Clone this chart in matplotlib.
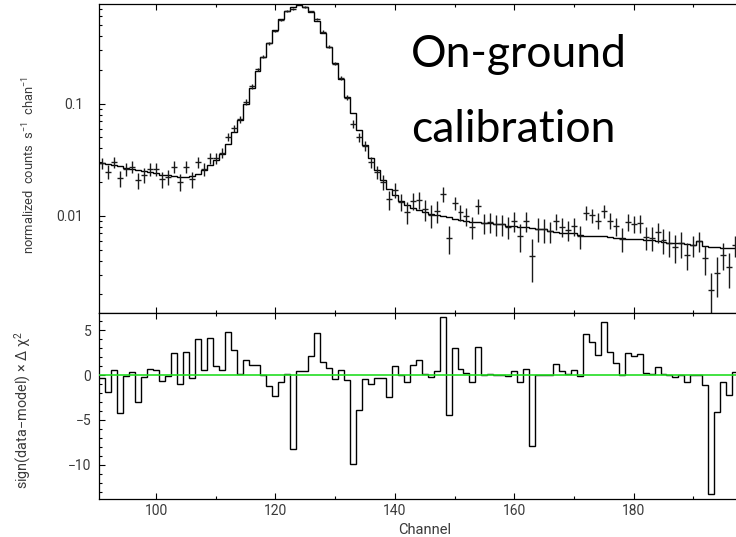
import matplotlib
matplotlib.use("Agg")
import matplotlib.pyplot as plt
import numpy as np
from matplotlib.ticker import MultipleLocator, FixedLocator, LogLocator, NullFormatter, FixedFormatter

plt.rcParams['font.family'] = ['Roboto', 'DejaVu Sans']
plt.rcParams['mathtext.fontset'] = 'custom'
plt.rcParams['mathtext.rm'] = 'Roboto'
plt.rcParams['mathtext.it'] = 'Roboto'
plt.rcParams['mathtext.fallback'] = 'cm'

channels = np.arange(91, 198)

counts = [0.0294, 0.0248, 0.0301, 0.0217, 0.0261, 0.0275, 0.0209, 0.0232, 0.0262, 0.0261,
          0.0213, 0.0221, 0.0275, 0.0202, 0.0275, 0.0213, 0.0301, 0.0262, 0.0327, 0.0327,
          0.0366, 0.0508, 0.0604, 0.0726, 0.104, 0.143, 0.202, 0.262, 0.344, 0.442,
          0.560, 0.672, 0.695, 0.765, 0.730, 0.662, 0.565, 0.438, 0.321, 0.227,
          0.169, 0.113, 0.0659, 0.0502, 0.0422, 0.0300, 0.0245, 0.0200, 0.0141, 0.0172,
          0.0134, 0.0109, 0.0137, 0.0140, 0.0115, 0.0102, 0.0111, 0.0156, 0.0064, 0.0130,
          0.0108, 0.0100, 0.0080, 0.0123, 0.0087, 0.0088, 0.0085, 0.0084, 0.0080, 0.0090,
          0.0066, 0.0090, 0.0044, 0.0077, 0.0076, 0.0073, 0.0090, 0.0080, 0.0075, 0.0081,
          0.0066, 0.0107, 0.0101, 0.0091, 0.0111, 0.0091, 0.0081, 0.0063, 0.0089, 0.0085,
          0.0086, 0.0065, 0.0064, 0.0072, 0.0061, 0.0058, 0.0053, 0.0057, 0.0045, 0.0055,
          0.0060, 0.0042, 0.0022, 0.0031, 0.0045, 0.0035, 0.0055]

count_err = ([0.0034] * 20 +
             [0.0036, 0.0040, 0.0045, 0.0050, 0.0058, 0.0068, 0.0078, 0.0088, 0.0098, 0.0110,
              0.0120, 0.0130, 0.0130, 0.0140, 0.0130, 0.0130, 0.0120, 0.0110, 0.0095, 0.0080,
              0.0070, 0.0060, 0.0050, 0.0045, 0.0040, 0.0035, 0.0032, 0.0030, 0.0027, 0.0026] +
             [0.0024] * 8 + [0.0018] * 17 + [0.0015] * 23 +
             [0.0012, 0.0012, 0.0012, 0.0012, 0.0009, 0.0012, 0.0012, 0.0012, 0.0012])

model = [0.0298, 0.0291, 0.0284, 0.0277, 0.0270, 0.0263, 0.0256, 0.0250, 0.0244, 0.0239,
         0.0234, 0.0230, 0.0226, 0.0224, 0.0223, 0.0226, 0.0237, 0.0256, 0.0285, 0.0318,
         0.0358, 0.0440, 0.0560, 0.0720, 0.0990, 0.138, 0.196, 0.262, 0.349, 0.452,
         0.565, 0.670, 0.725, 0.760, 0.725, 0.650, 0.545, 0.430, 0.317, 0.229,
         0.167, 0.114, 0.0821, 0.0583, 0.0429, 0.0326, 0.0257, 0.0209, 0.0173, 0.0154,
         0.0136, 0.0124, 0.0117, 0.0112, 0.0108, 0.0104, 0.0101, 0.0099, 0.0097, 0.0094,
         0.0092, 0.0091, 0.0089, 0.0088, 0.0087, 0.0086, 0.0085, 0.0084, 0.0082, 0.0081,
         0.0080, 0.0079, 0.0078, 0.0077, 0.0076, 0.0073, 0.0072, 0.0071, 0.0071, 0.0070,
         0.0068, 0.0067, 0.0067, 0.0066, 0.0066, 0.0065, 0.0064, 0.0064, 0.0063, 0.0063,
         0.0062, 0.0061, 0.0061, 0.0060, 0.0059, 0.0058, 0.0057, 0.0057, 0.0056, 0.0055,
         0.0060, 0.0054, 0.0053, 0.0053, 0.0052, 0.0052, 0.0052]

resid = [-0.35, -1.86, 0.56, -4.2, -0.1, 0.33, -3.0, -0.2, 0.67, 0.56,
         -0.67, -0.1, 2.4, -1.0, 2.56, -0.33, 4.0, 0.56, 4.1, 1.0,
         0.56, 4.8, 2.75, 0.1, 1.67, 1.1, 1.1, 0.0, -1.23, -2.3,
         -0.74, 0.15, -8.2, 0.45, 0.45, 2.1, 4.7, 1.5, 0.78, -0.45,
         0.56, -0.52, -9.85, -3.94, -0.41, -0.97, -0.33, -0.33, -2.5, 1.0,
         0.0, -0.82, 1.15, 1.67, 0.15, -0.19, 0.45, 6.47, -4.42, 3.0,
         0.67, 0.26, -0.74, 3.1, 0.0, 0.15, 0.0, 0.0, -0.1, 0.45,
         -0.74, 0.67, -7.9, 0.0, 0.0, 0.0, 1.23, 0.45, 0.15, 0.56,
         -0.1, 4.57, 3.7, 2.2, 5.9, 2.56, 1.37, 0.0, 2.45, 2.1,
         2.34, 0.22, 0.1, 0.9, 0.1, 0.0, -0.22, 0.0, -0.74, 0.0,
         0.0, -1.1, -13.2, -4.1, -0.74, -2.2, 0.33]

annotation_lines = ["On-ground", "calibration"]

edges = np.append(channels - 0.5, channels[-1] + 0.5)
txt_col = '#3a3a3a'

fig = plt.figure(figsize=(7.36, 5.37), dpi=100)
ax1 = fig.add_axes([0.1349, 0.4166, 0.8842, 0.5760])
ax2 = fig.add_axes([0.1349, 0.0708, 0.8842, 0.3458])

# top panel
ax1.stairs(model, edges, baseline=None, color='black', lw=1.0)
ax1.errorbar(channels, counts, yerr=count_err, xerr=0.5, fmt='none',
             ecolor='#1a1a1a', elinewidth=1.0, capsize=0)
ax1.set_yscale('log')
ax1.set_ylim(0.00136, 0.7723)
ax1.set_xlim(90.5, 199.5)
ax1.xaxis.set_major_locator(MultipleLocator(20))
ax1.xaxis.set_minor_locator(MultipleLocator(10))
ax1.xaxis.set_major_formatter(NullFormatter())
ax1.yaxis.set_major_locator(FixedLocator([0.01, 0.1]))
ax1.yaxis.set_major_formatter(FixedFormatter(['0.01', '0.1']))
ax1.yaxis.set_minor_locator(LogLocator(base=10, subs=np.arange(2, 10)))
ax1.yaxis.set_minor_formatter(NullFormatter())
ax1.tick_params(axis='y', which='major', pad=11.5)
ax1.set_ylabel(r'normalized  counts  s$^{-1}$  chan$^{-1}$', fontsize=9.3, color=txt_col)
ax1.yaxis.set_label_coords(-0.0957, 0.4795)

# residual panel
ax2.stairs(resid, edges, baseline=None, color='black', lw=1.0)
ax2.axhline(0, color='#22dd22', lw=1.2, zorder=3)
ax2.set_xlim(90.5, 199.5)
ax2.set_ylim(-13.78, 6.86)
ax2.xaxis.set_major_locator(MultipleLocator(20))
ax2.xaxis.set_minor_locator(MultipleLocator(10))
ax2.yaxis.set_major_locator(MultipleLocator(5))
ax2.yaxis.set_minor_locator(MultipleLocator(1))
ax2.tick_params(axis='y', which='major', pad=5.8)
ax2.tick_params(axis='x', which='major', pad=3.6)
ax2.set_xlabel('Channel', fontsize=10.5, color=txt_col, va='top')
ax2.xaxis.set_label_coords(0.5, -0.1276)
ax2.set_ylabel(r'sign(data$-$model) $\times$ $\Delta$ $\chi^2$', fontsize=10.4, color=txt_col)
ax2.yaxis.set_label_coords(-0.1019, 0.479)

for ax in (ax1, ax2):
    ax.tick_params(which='both', direction='in', top=True, right=True,
                   width=0.8, colors='black', labelcolor=txt_col, labelsize=10)
    ax.tick_params(which='major', length=4.5)
    ax.tick_params(which='minor', length=2.3)
    for s in ax.spines.values():
        s.set_linewidth(0.9)

fig.text(411 / 736, 1 - 67 / 537, annotation_lines[0], family='Lato', fontsize=32,
         ha='left', va='baseline', color='black')
fig.text(411 / 736, 1 - 141.7 / 537, annotation_lines[1], family='Lato', fontsize=32,
         ha='left', va='baseline', color='black')

fig.savefig('out.png', dpi=100)
